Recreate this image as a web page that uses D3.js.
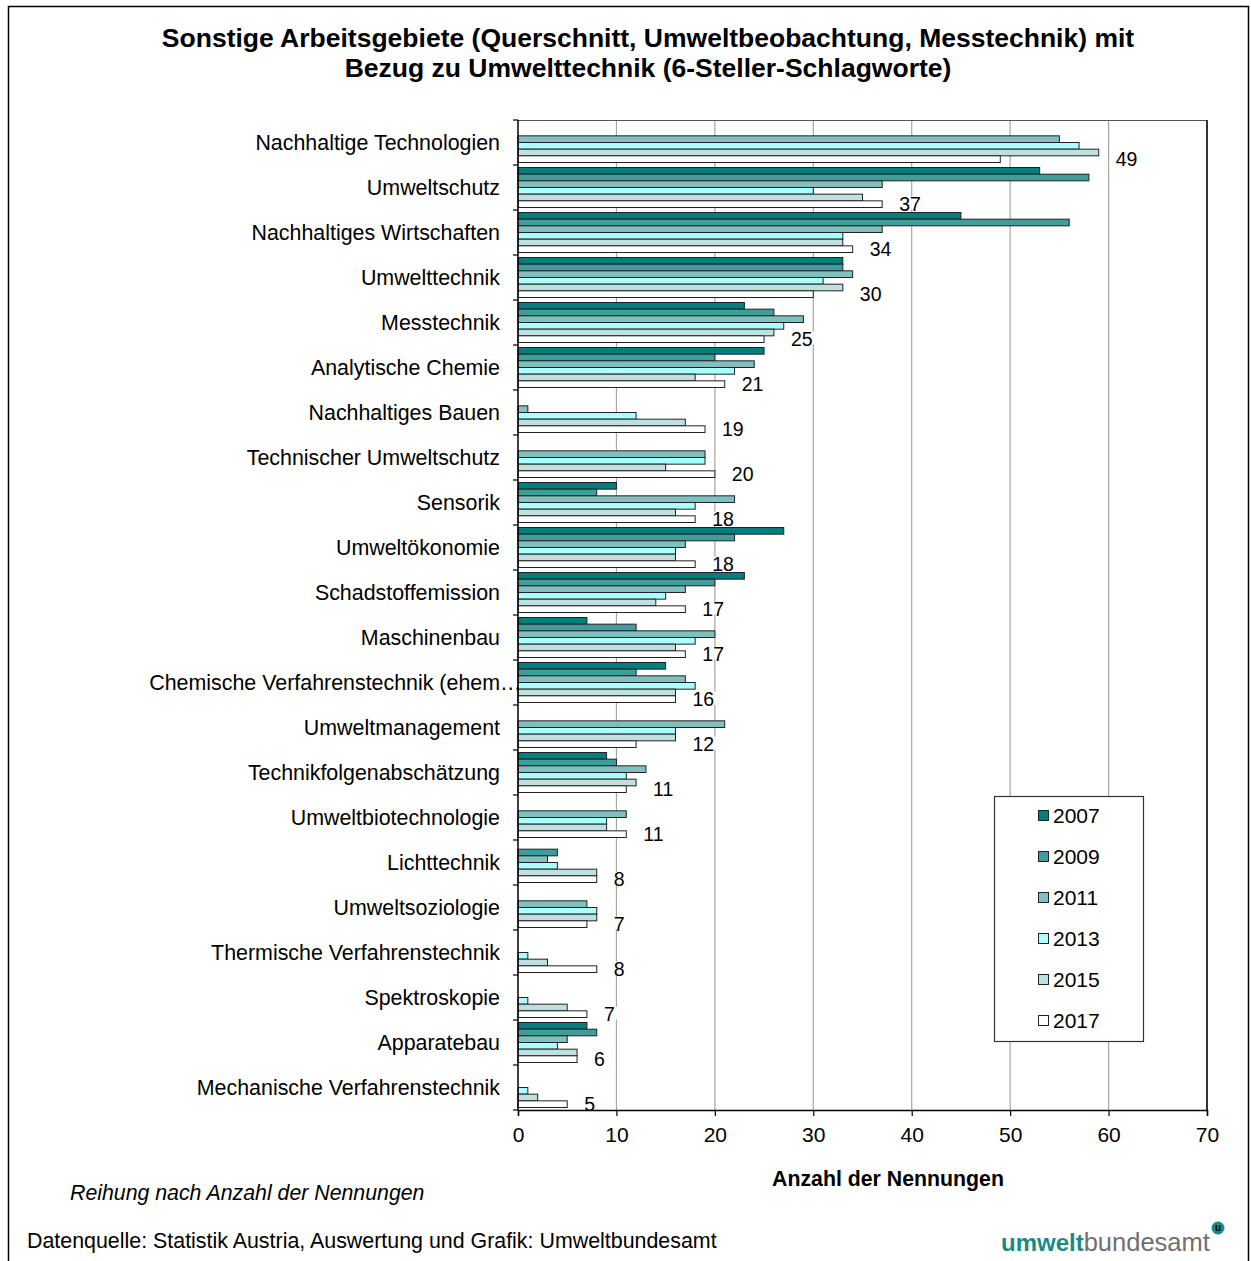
<!DOCTYPE html>
<html>
<head>
<meta charset="utf-8">
<script src="https://cdn.jsdelivr.net/npm/d3@7"></script>
<style>
  body { margin: 0; background: #fff; }
  svg { display: block; }
  text { font-family: "Liberation Sans", Arial, Helvetica, sans-serif; fill: #000; }
</style>
</head>
<body>
<svg id="chart" width="1251" height="1261"></svg>
<script>
// Keyword categories, ordered by number of mentions
const categories = [
  "Nachhaltige Technologien",
  "Umweltschutz",
  "Nachhaltiges Wirtschaften",
  "Umwelttechnik",
  "Messtechnik",
  "Analytische Chemie",
  "Nachhaltiges Bauen",
  "Technischer Umweltschutz",
  "Sensorik",
  "Umweltökonomie",
  "Schadstoffemission",
  "Maschinenbau",
  "Chemische Verfahrenstechnik (ehem…",
  "Umweltmanagement",
  "Technikfolgenabschätzung",
  "Umweltbiotechnologie",
  "Lichttechnik",
  "Umweltsoziologie",
  "Thermische Verfahrenstechnik",
  "Spektroskopie",
  "Apparatebau",
  "Mechanische Verfahrenstechnik"
];

const years = ["2007", "2009", "2011", "2013", "2015", "2017"];

// Number of mentions per survey year (same order as categories)
const v2007 = [0, 53, 45, 33, 23, 25, 0, 0, 10, 27, 23, 7, 15, 0, 9, 0, 0, 0, 0, 0, 7, 0];
const v2009 = [0, 58, 56, 33, 26, 20, 0, 0, 8, 22, 20, 12, 12, 0, 10, 0, 4, 0, 0, 0, 8, 0];
const v2011 = [55, 37, 37, 34, 29, 24, 1, 19, 22, 17, 17, 20, 17, 21, 13, 11, 3, 7, 0, 0, 5, 0];
const v2013 = [57, 30, 33, 31, 27, 22, 12, 19, 18, 16, 15, 18, 18, 16, 11, 9, 4, 8, 1, 1, 4, 1];
const v2015 = [59, 35, 33, 33, 26, 18, 17, 15, 16, 16, 14, 16, 16, 16, 12, 9, 8, 8, 3, 5, 6, 2];
const v2017 = [49, 37, 34, 30, 25, 21, 19, 20, 18, 18, 17, 17, 16, 12, 11, 11, 8, 7, 8, 7, 6, 5];

const xTicks = [0, 10, 20, 30, 40, 50, 60, 70];

const seriesValues = { "2007": v2007, "2009": v2009, "2011": v2011, "2013": v2013, "2015": v2015, "2017": v2017 };
const colors = {
  "2007": "#007f7c",
  "2009": "#3f9e9b",
  "2011": "#80c0bf",
  "2013": "#aaffff",
  "2015": "#c0e0df",
  "2017": "#ffffff"
};

const svg = d3.select("#chart");

// Outer frame
svg.append("rect")
  .attr("x", 8.5).attr("y", 6.5)
  .attr("width", 1240).attr("height", 1280)
  .attr("fill", "#fff").attr("stroke", "#000").attr("stroke-width", 1.5);

// Title
const title = svg.append("text")
  .attr("text-anchor", "middle")
  .style("font-size", "26.5px").style("font-weight", "bold");
title.append("tspan").attr("x", 648).attr("y", 47)
  .text("Sonstige Arbeitsgebiete (Querschnitt, Umweltbeobachtung, Messtechnik) mit");
title.append("tspan").attr("x", 648).attr("y", 77)
  .text("Bezug zu Umwelttechnik (6-Steller-Schlagworte)");

// Scales
const x = d3.scaleLinear().domain([0, 70]).range([518, 1207]);
const y = d3.scaleBand().domain(categories).range([120, 1110]).padding(0);
const yi = d3.scaleBand().domain(years).range([0, y.bandwidth()])
  .paddingInner(0).paddingOuter(0.375);

const plotTop = 120, plotBottom = 1110;

// Vertical gridlines
svg.append("g")
  .selectAll("line")
  .data(xTicks.filter(t => t > 0 && t < 70))
  .join("line")
  .attr("x1", d => x(d)).attr("x2", d => x(d))
  .attr("y1", plotTop).attr("y2", plotBottom)
  .attr("stroke", "#a6a6a6").attr("stroke-width", 1.2);

// Plot area border (top and right)
svg.append("line")
  .attr("x1", x(0)).attr("x2", x(70)).attr("y1", plotTop + 0.5).attr("y2", plotTop + 0.5)
  .attr("stroke", "#555").attr("stroke-width", 1.2);
svg.append("line")
  .attr("x1", x(70)).attr("x2", x(70)).attr("y1", plotTop).attr("y2", plotBottom)
  .attr("stroke", "#333").attr("stroke-width", 2);

// Bars
const barData = [];
categories.forEach((c, i) => {
  years.forEach(yr => {
    barData.push({ cat: c, year: yr, value: seriesValues[yr][i] });
  });
});

svg.append("g")
  .selectAll("rect")
  .data(barData.filter(d => d.value > 0))
  .join("rect")
  .attr("x", x(0))
  .attr("y", d => y(d.cat) + yi(d.year))
  .attr("width", d => x(d.value) - x(0))
  .attr("height", yi.bandwidth())
  .attr("fill", d => colors[d.year])
  .attr("stroke", "#222")
  .attr("stroke-width", 1);

// Value labels of the latest year, set beside the longer of the two lowest bars
const labelG = svg.append("g");
categories.forEach((c, i) => {
  const v = v2017[i];
  const reach = Math.max(v2017[i], v2015[i]);
  const cy = y(c) + yi("2017") + yi.bandwidth() / 2;
  const t = labelG.append("text")
    .attr("x", x(reach) + 17)
    .attr("y", cy)
    .attr("dy", "0.35em")
    .style("font-size", "19.5px")
    .text(v);
  const bb = t.node().getBBox();
  labelG.insert("rect", () => t.node())
    .attr("x", bb.x - 3).attr("y", cy - 7.5)
    .attr("width", bb.width + 6).attr("height", 12.8)
    .attr("fill", "#fff");
});

// Y axis: line with ticks at category boundaries
const yAxisG = svg.append("g");
yAxisG.append("line")
  .attr("x1", x(0)).attr("x2", x(0)).attr("y1", plotTop).attr("y2", plotBottom)
  .attr("stroke", "#000").attr("stroke-width", 1.5);
yAxisG.selectAll("line.tick")
  .data(d3.range(categories.length + 1))
  .join("line")
  .attr("class", "tick")
  .attr("x1", x(0) - 5).attr("x2", x(0))
  .attr("y1", d => plotTop + d * y.step()).attr("y2", d => plotTop + d * y.step())
  .attr("stroke", "#000").attr("stroke-width", 1.2);

// Category labels
categories.forEach(c => {
  const cy = y(c) + y.bandwidth() / 2;
  const truncated = c.endsWith("…");
  const base = truncated ? c.slice(0, -1) : c;
  svg.append("text")
    .attr("x", 500).attr("y", cy).attr("dy", "0.35em")
    .attr("text-anchor", "end")
    .style("font-size", "21.4px")
    .text(base);
  if (truncated) {
    svg.append("text")
      .attr("x", 500).attr("y", cy).attr("dy", "0.35em")
      .style("font-size", "21.4px")
      .text("…");
  }
});

// X axis
const xAxis = d3.axisBottom(x).tickValues(xTicks).tickSize(6).tickPadding(11).tickFormat(d3.format("d"));
const xg = svg.append("g")
  .attr("transform", `translate(0,${plotBottom})`)
  .call(xAxis);
xg.select(".domain").attr("stroke", "#000").attr("stroke-width", 1.5);
xg.selectAll(".tick line").attr("stroke", "#000").attr("stroke-width", 1.2);
xg.selectAll(".tick text")
  .style("font-size", "21px")
  .style("font-family", "\"Liberation Sans\", Arial, sans-serif")
  .attr("fill", "#000");

// Axis title
svg.append("text")
  .attr("x", 888).attr("y", 1186)
  .attr("text-anchor", "middle")
  .style("font-size", "21.3px").style("font-weight", "bold")
  .text("Anzahl der Nennungen");

// Legend
const lg = svg.append("g");
lg.append("rect")
  .attr("x", 994.5).attr("y", 796.5).attr("width", 149).attr("height", 245)
  .attr("fill", "#fff").attr("stroke", "#333").attr("stroke-width", 1.2);
years.forEach((yr, k) => {
  const cy = 816 + k * 41;
  lg.append("rect")
    .attr("x", 1038.5).attr("y", cy - 5.5).attr("width", 10).attr("height", 10)
    .attr("fill", colors[yr]).attr("stroke", "#222").attr("stroke-width", 1);
  lg.append("text")
    .attr("x", 1053).attr("y", cy).attr("dy", "0.35em")
    .style("font-size", "21px")
    .text(yr);
});

// Notes
svg.append("text")
  .attr("x", 70).attr("y", 1200)
  .style("font-size", "21.3px").style("font-style", "italic")
  .text("Reihung nach Anzahl der Nennungen");

svg.append("text")
  .attr("x", 27).attr("y", 1248)
  .style("font-size", "21.4px")
  .text("Datenquelle: Statistik Austria, Auswertung und Grafik: Umweltbundesamt");

// Agency wordmark
const logo = svg.append("text")
  .attr("x", 1001).attr("y", 1251);
logo.append("tspan").style("font-weight", "bold").style("font-size", "24px")
  .attr("fill", "#1a8a85").text("umwelt");
logo.append("tspan").attr("fill", "#707070").style("font-size", "25.5px").text("bundesamt");
svg.append("circle")
  .attr("cx", 1218).attr("cy", 1228).attr("r", 6.5)
  .attr("fill", "#1a8a85");
svg.append("text")
  .attr("x", 1218).attr("y", 1228).attr("dy", "0.33em")
  .attr("text-anchor", "middle")
  .style("font-size", "10px").style("font-weight", "bold")
  .attr("fill", "#fff")
  .text("u");
</script>
</body>
</html>
